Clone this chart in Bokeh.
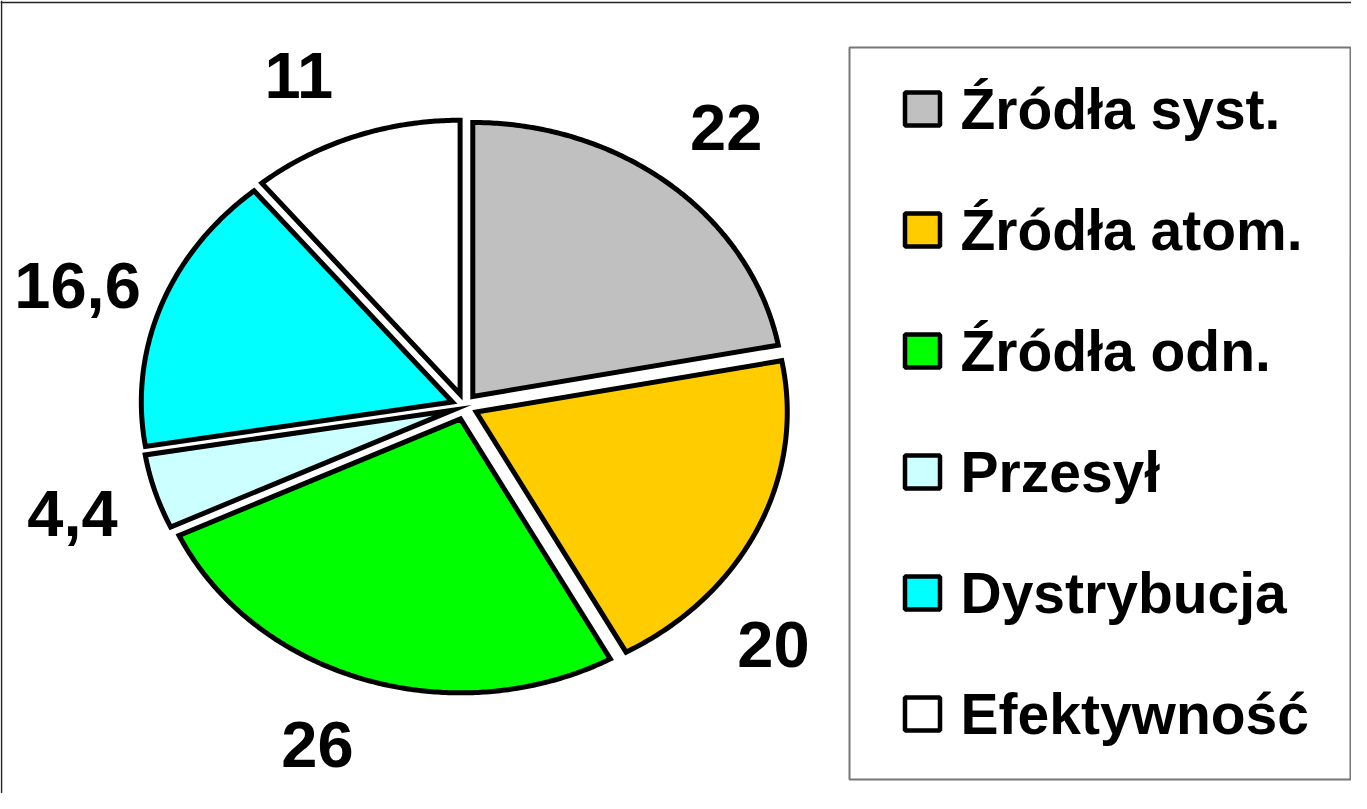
import numpy as np
from bokeh.plotting import figure
from bokeh.models import Range1d, Span, ColumnDataSource
from bokeh.embed import file_html
from bokeh.resources import INLINE
from bokeh.core.properties import value

# ---- data ----
categories = ["Źródła syst.", "Źródła atom.", "Źródła odn.", "Przesył", "Dystrybucja", "Efektywność"]
values = [22, 20, 26, 4.4, 16.6, 11]
value_labels = ["22", "20", "26", "4,4", "16,6", "11"]
colors = ["#C0C0C0", "#FFCC00", "#00FF00", "#CCFFFF", "#00FFFF", "#FFFFFF"]

# ---- layout / style ----
W, H = 1351, 793
FONT = "Liberation Sans"
cx, cy = 464, 387          # pie centre (canvas px, y up)
rx, ry = 311, 274          # pie radii (elliptical pie)
explode = 13               # explosion distance
label_factor = 1.32
label_angle_nudge = [0, 16, 3, 0, -1, -4]  # degrees

p = figure(width=W, height=H, x_range=Range1d(0, W), y_range=Range1d(0, H),
           output_backend="svg", toolbar_location=None, min_border=0)
p.axis.visible = False
p.grid.visible = False
p.outline_line_color = None
p.background_fill_color = "white"
p.border_fill_color = "white"

total = float(sum(values))
cum = np.cumsum([0.0] + list(values))
xs, ys, lx, ly = [], [], [], []
for i, v in enumerate(values):
    a0 = cum[i] / total * 2 * np.pi
    a1 = cum[i + 1] / total * 2 * np.pi
    am = (a0 + a1) / 2
    ox = cx + explode * np.sin(am)
    oy = cy + explode * np.cos(am)
    n = max(int(np.degrees(a1 - a0) / 0.5), 2) + 1
    t = np.linspace(a0, a1, n)
    xs.append([ox] + list(ox + rx * np.sin(t)))
    ys.append([oy] + list(oy + ry * np.cos(t)))
    al = am + np.radians(label_angle_nudge[i])
    lx.append(cx + label_factor * rx * np.sin(al))
    ly.append(cy + label_factor * ry * np.cos(al))

src = ColumnDataSource(dict(xs=xs, ys=ys, color=colors, name=categories))
p.patches("xs", "ys", source=src, fill_color="color", line_color="black",
          line_width=5, line_join="miter")

lsrc = ColumnDataSource(dict(x=lx, y=ly, text=value_labels))
p.text("x", "y", text="text", source=lsrc, text_font=value(FONT),
       text_font_style="bold", text_font_size="65px", text_align="center",
       text_baseline="middle", text_color="black")

# ---- legend (drawn manually to match layout) ----
leg_left, leg_right, leg_top, leg_bottom = 849, 1350, 746, 14
p.quad(left=[leg_left], right=[leg_right], top=[leg_top], bottom=[leg_bottom],
       fill_color=None, line_color="#777777", line_width=2)
row0, step = 684.5, 121
ky = [row0 - i * step for i in range(len(categories))]
ksrc = ColumnDataSource(dict(x=[922] * len(categories), tx=[960] * len(categories),
                             y=ky, color=colors, text=categories))
p.rect("x", "y", width=35, height=33, source=ksrc, fill_color="color",
       line_color="black", line_width=4.5)
p.text("tx", "y", text="text", source=ksrc, text_font=value(FONT),
       text_font_style="bold", text_font_size="57px", text_align="left",
       text_baseline="middle", text_color="black")

# ---- outer frame (top and left edges visible) ----
p.add_layout(Span(location=1, dimension="height", line_color="#222222", line_width=1.5))
p.add_layout(Span(location=791, dimension="width", line_color="#222222", line_width=1.5))

open("out.html", "w").write(file_html(p, INLINE))
